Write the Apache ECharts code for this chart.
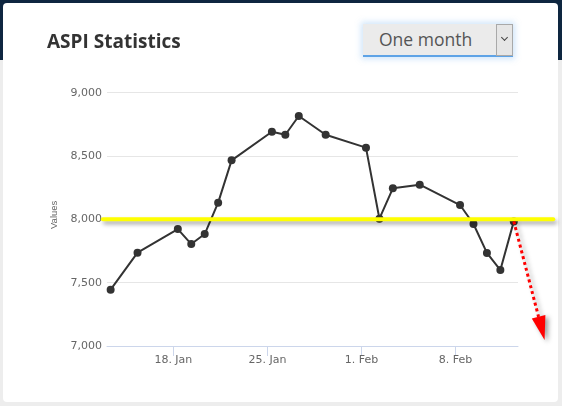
<!DOCTYPE html>
<html>
<head>
<meta charset="utf-8">
<script src="https://cdn.jsdelivr.net/npm/echarts@6/dist/echarts.min.js"></script>
<style>
  html, body { margin:0; padding:0; width:562px; height:406px; overflow:hidden; }
  body { background: linear-gradient(#0e2640 0px, #0e2640 60px, #ededed 60px); position:relative; }
  #card { position:absolute; left:3px; top:3px; width:555px; height:399px; background:#fff; border-radius:4px; }
  #chart { position:absolute; left:0; top:0; width:562px; height:406px; }
  #dd { position:absolute; left:363px; top:24px; width:150px; height:31px; background:#ebebeb;
        border-bottom:2px solid #5ea3e6; box-shadow:0 0 6px 2px rgba(120,180,240,0.35);
        font-family:"Open Sans", sans-serif; font-size:17.5px; color:#555; }
  #dd .txt { position:absolute; left:16px; top:3px; }
  #dd .btn { position:absolute; left:133px; top:0; width:15px; height:30px; border:1px solid #a9a9a9; background:#e6e6e6; }
  #dd .chev { position:absolute; left:5px; top:10px; width:4px; height:4px; border-right:1px solid #444; border-bottom:1px solid #444; transform:rotate(45deg); }
</style>
</head>
<body>
<div id="card"></div>
<div id="dd"><span class="txt">One month</span><div class="btn"><div class="chev"></div></div></div>
<div id="chart"></div>
<script>
// ---- data ----
const dates = ['2016-01-13','2016-01-15','2016-01-18','2016-01-19','2016-01-20','2016-01-21','2016-01-22',
               '2016-01-25','2016-01-26','2016-01-27','2016-01-29','2016-02-01','2016-02-02','2016-02-03',
               '2016-02-05','2016-02-08','2016-02-09','2016-02-10','2016-02-11','2016-02-12'];
const values = [7445,7737,7923,7805,7884,8132,8466,8692,8668,8816,8668,8566,8005,8245,8274,8113,7963,7735,7600,7984];
const xTickDates = ['2016-01-18','2016-01-25','2016-02-01','2016-02-08'];
const monthNames = ['Jan','Feb','Mar','Apr','May','Jun','Jul','Aug','Sep','Oct','Nov','Dec'];
const xRange = ['2016-01-13T01:30:00Z','2016-02-12T15:30:00Z'];
const yTicks = [7000, 7500, 8000, 8500, 9000];
const thresholdValue = 8000;
const thresholdRange = ['2016-01-12T18:00:00Z','2016-02-15T06:30:00Z'];
const arrowTip = ['2016-02-14T15:00:00Z', 7047];
const pointTimeOfDay = 'T08:00:00Z';

const ts = s => new Date(s).getTime();
const seriesData = dates.map((d, i) => [ts(d + pointTimeOfDay), values[i]]);
const lastPoint = seriesData[seriesData.length - 1];
const tickValues = xTickDates.map(d => ts(d + 'T00:00:00Z'));

const chart = echarts.init(document.getElementById('chart'), null, { renderer: 'canvas' });
const axisFont = 'DejaVu Sans, sans-serif';
chart.setOption({
  animation: false,
  title: {
    text: 'ASPI Statistics', left: 47, top: 33, padding: 0,
    textStyle: { fontFamily: 'Open Sans, sans-serif', fontSize: 19, fontWeight: 'bold', color: '#333' }
  },
  grid: { left: 107, right: 44, top: 92.7, bottom: 60 },
  xAxis: {
    type: 'value',
    min: ts(xRange[0]), max: ts(xRange[1]),
    axisLine: { show: true, lineStyle: { color: '#ccd6eb', width: 1 } },
    axisTick: { show: true, length: 10, lineStyle: { color: '#ccd6eb' }, customValues: tickValues },
    axisLabel: {
      customValues: tickValues,
      margin: 9, color: '#666', fontSize: 11, fontFamily: axisFont,
      formatter: v => { const d = new Date(v); return d.getUTCDate() + '. ' + monthNames[d.getUTCMonth()]; }
    },
    splitLine: { show: false }
  },
  yAxis: {
    type: 'value', min: yTicks[0], max: yTicks[yTicks.length - 1], interval: 500,
    name: 'Values', nameLocation: 'middle', nameGap: 45, nameRotate: 90,
    nameTextStyle: { color: '#666', fontSize: 9.5, fontFamily: 'Liberation Sans, sans-serif', padding: [0, 0, 0, 9] },
    axisLine: { show: false }, axisTick: { show: false },
    axisLabel: { color: '#666', fontSize: 11, fontFamily: axisFont, margin: 5,
                 formatter: v => v.toLocaleString('en-US') },
    splitLine: { lineStyle: { color: '#e6e6e6', width: 1 } }
  },
  series: [
    {
      type: 'line', data: seriesData, symbol: 'circle', symbolSize: 8,
      lineStyle: { color: '#333', width: 2 }, itemStyle: { color: '#333' },
      emphasis: { disabled: true }
    }
  ]
});

// Annotations placed through the chart's own scales
const px = p => chart.convertToPixel({ gridIndex: 0 }, p);
const yA = px([ts(thresholdRange[0]), thresholdValue]);
const yB = px([ts(thresholdRange[1]), thresholdValue]);
const aStart = px(lastPoint);
const aTip = px([ts(arrowTip[0]), arrowTip[1]]);
const dx = aTip[0] - aStart[0], dy = aTip[1] - aStart[1];
const len = Math.hypot(dx, dy);
const ux = dx / len, uy = dy / len, nx = -uy, ny = ux;
const headLen = 24, headHalf = 7;
const baseC = [aTip[0] - ux * headLen, aTip[1] - uy * headLen];

chart.setOption({
  graphic: [
    {
      type: 'line', z: 100, silent: true,
      shape: { x1: yA[0], y1: yA[1], x2: yB[0], y2: yB[1] },
      style: { stroke: '#ffff00', lineWidth: 4, lineCap: 'round',
               shadowColor: 'rgba(0,0,0,0.35)', shadowBlur: 4, shadowOffsetX: 2, shadowOffsetY: 3 }
    },
    {
      type: 'line', z: 101, silent: true,
      shape: { x1: aStart[0], y1: aStart[1], x2: baseC[0], y2: baseC[1] },
      style: { stroke: '#ff0000', lineWidth: 3, lineDash: [3, 3],
               shadowColor: 'rgba(0,0,0,0.35)', shadowBlur: 4, shadowOffsetX: 3, shadowOffsetY: 2 }
    },
    {
      type: 'polygon', z: 101, silent: true,
      shape: { points: [
        [aTip[0], aTip[1]],
        [baseC[0] + nx * headHalf, baseC[1] + ny * headHalf],
        [baseC[0] - nx * headHalf, baseC[1] - ny * headHalf]
      ] },
      style: { fill: '#ff0000', shadowColor: 'rgba(0,0,0,0.4)', shadowBlur: 5, shadowOffsetX: 3, shadowOffsetY: 2 }
    }
  ]
});
</script>
</body>
</html>
